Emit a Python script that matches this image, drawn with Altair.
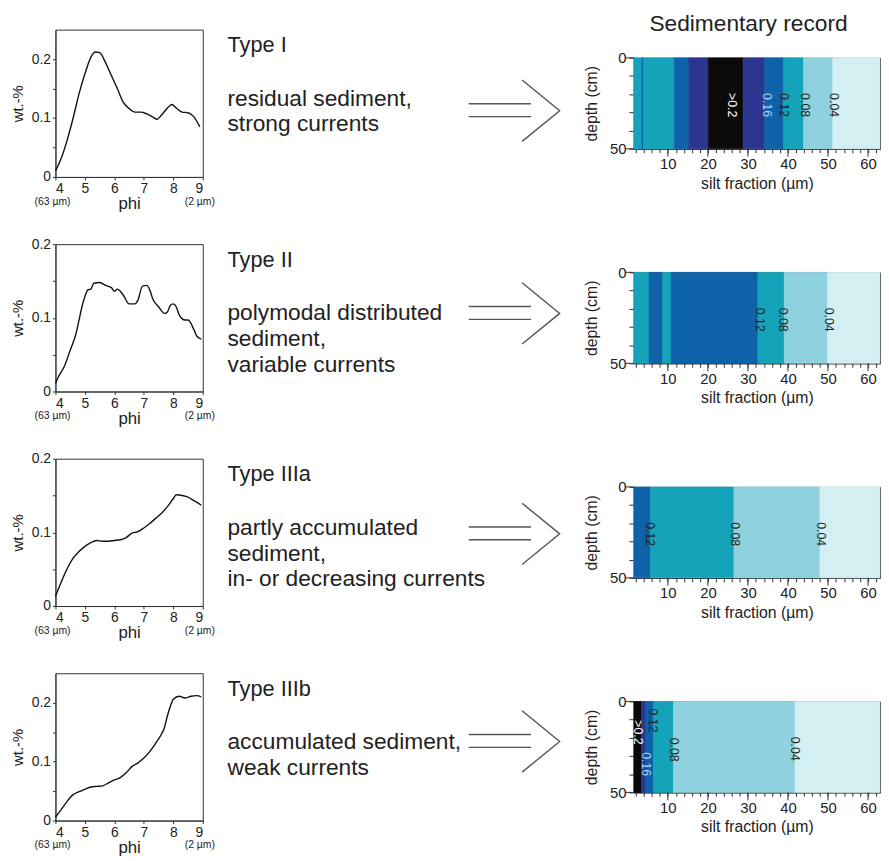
import altair as alt
import pandas as pd

FONT = "Liberation Sans"
INK = "#222222"

# ---------------- grain-size distributions (left column) ----------------
phi1 = [4.0, 4.2, 4.4, 4.6, 4.8, 5.0, 5.2, 5.35, 5.5, 5.7, 5.9, 6.1, 6.3, 6.5, 6.7, 6.9,
        7.1, 7.3, 7.45, 7.6, 7.8, 7.95, 8.1, 8.3, 8.5, 8.7, 8.9]
wt1 = [0.010, 0.032, 0.063, 0.100, 0.141, 0.175, 0.203, 0.212, 0.211, 0.194, 0.172, 0.150,
       0.127, 0.116, 0.110, 0.110, 0.107, 0.102, 0.098, 0.105, 0.117, 0.123, 0.117, 0.110,
       0.109, 0.102, 0.085]

phi2 = [4.0, 4.1, 4.3, 4.5, 4.7, 4.8, 4.9, 5.0, 5.1, 5.2, 5.3, 5.5, 5.7, 5.9, 6.0, 6.1, 6.3,
        6.5, 6.7, 6.8, 6.95, 7.1, 7.2, 7.3, 7.5, 7.7, 7.8, 7.9, 8.0, 8.1, 8.2, 8.4, 8.5, 8.7,
        8.8, 8.95]
wt2 = [0.011, 0.020, 0.034, 0.056, 0.079, 0.097, 0.115, 0.129, 0.138, 0.139, 0.147, 0.148,
       0.144, 0.141, 0.136, 0.139, 0.131, 0.119, 0.119, 0.124, 0.143, 0.144, 0.138, 0.126,
       0.115, 0.106, 0.108, 0.117, 0.119, 0.115, 0.104, 0.097, 0.097, 0.084, 0.075, 0.071]

phi3 = [4.0, 4.2, 4.4, 4.6, 4.8, 5.0, 5.2, 5.4, 5.6, 5.8, 6.0, 6.2, 6.4, 6.6, 6.8, 7.0, 7.2,
        7.4, 7.6, 7.8, 8.0, 8.1, 8.3, 8.5, 8.7, 8.95]
wt3 = [0.013, 0.033, 0.051, 0.065, 0.074, 0.081, 0.086, 0.089, 0.088, 0.088, 0.089, 0.090,
       0.093, 0.099, 0.101, 0.106, 0.112, 0.119, 0.126, 0.135, 0.146, 0.151, 0.150, 0.148,
       0.143, 0.137]

phi4 = [4.0, 4.2, 4.4, 4.6, 4.8, 5.0, 5.2, 5.4, 5.6, 5.8, 6.0, 6.2, 6.4, 6.6, 6.8, 7.0, 7.2,
        7.4, 7.6, 7.7, 7.8, 7.9, 8.0, 8.2, 8.4, 8.6, 8.8, 8.95]
wt4 = [0.006, 0.019, 0.033, 0.044, 0.049, 0.053, 0.057, 0.058, 0.059, 0.064, 0.069, 0.073,
       0.081, 0.092, 0.098, 0.106, 0.117, 0.131, 0.147, 0.158, 0.178, 0.194, 0.206, 0.211,
       0.208, 0.211, 0.212, 0.210]

ymax_left = [0.25, 0.2, 0.2, 0.25]
phi_ticks = [4, 5, 6, 7, 8, 9]
wt_ticks = [0, 0.05, 0.1, 0.15, 0.2]
sub_phi = [4, 9]
sub_labels = ["(63 \u00b5m)", "(2 \u00b5m)"]

# ---------------- texts (middle column) ----------------
main_title = "Sedimentary record"
type_labels = ["Type I", "Type II", "Type IIIa", "Type IIIb"]
descriptions = [
    ["residual sediment,", "strong currents"],
    ["polymodal distributed", "sediment,", "variable currents"],
    ["partly accumulated", "sediment,", "in- or decreasing currents"],
    ["accumulated sediment,", "weak currents"],
]

# ---------------- sedimentary records (right column) ----------------
level_names = ["<0.04", "0.04-0.08", "0.08-0.12", "0.12-0.16", "0.16-0.2", ">0.2"]
level_colors = ["#d3eff2", "#8fd2df", "#14a3b9", "#0e63a8", "#2b3590", "#0a0a0a"]

edges1 = [1.5, 3.5, 3.9, 11.6, 15.3, 20.1, 28.8, 34.2, 38.9, 43.9, 51.2, 63]
cls1 = ["0.08-0.12", "0.12-0.16", "0.08-0.12", "0.12-0.16", "0.16-0.2", ">0.2",
        "0.16-0.2", "0.12-0.16", "0.08-0.12", "0.04-0.08", "<0.04"]
edges2 = [1.5, 5.3, 8.7, 10.8, 32.5, 39.1, 49.9, 63]
cls2 = ["0.08-0.12", "0.12-0.16", "0.08-0.12", "0.12-0.16", "0.08-0.12", "0.04-0.08", "<0.04"]
edges3 = [1.5, 5.7, 26.5, 48.0, 63]
cls3 = ["0.12-0.16", "0.08-0.12", "0.04-0.08", "<0.04"]
edges4 = [1.5, 3.4, 4.5, 6.4, 11.4, 41.8, 63]
cls4 = [">0.2", "0.16-0.2", "0.12-0.16", "0.08-0.12", "0.04-0.08", "<0.04"]

lab1 = [">0.2", "0.16", "0.12", "0.08", "0.04"]
labx1 = [25.9, 34.8, 39.0, 44.3, 51.6]
labd1 = [26, 26, 26, 26, 26]
labc1 = ["#ffffff", "#a9d6f2", INK, INK, INK]
lab2 = ["0.12", "0.08", "0.04"]
labx2 = [32.9, 38.7, 50.3]
labd2 = [26, 26, 26]
labc2 = [INK, INK, INK]
lab3 = ["0.12", "0.08", "0.04"]
labx3 = [5.6, 26.7, 48.3]
labd3 = [26, 26, 26]
labc3 = [INK, INK, INK]
lab4 = [">0.2", "0.16", "0.12", "0.08", "0.04"]
labx4 = [2.5, 4.6, 6.4, 11.4, 41.8]
labd4 = [17, 34.5, 10.5, 26.5, 26]
labc4 = ["#ffffff", "#a9d6f2", INK, INK, INK]

silt_ticks = list(range(2, 63, 2))
silt_major = [10, 20, 30, 40, 50, 60]
depth_ticks = [0, 10, 20, 30, 40, 50]
depth_major = [0, 50]

# ---------------- layout constants ----------------
LW, LH = 149, 149
MW, MH = 436, 183
RW, RH = 249, 92
arrow_y = [99, 87, 93, 86]
PAD = {"left": 2, "top": 0, "right": 0, "bottom": 0}

PHI_AXIS = alt.Axis(values=phi_ticks, labelFontSize=14, tickSize=3, labelPadding=2,
                    labelOverlap=False, titleFontSize=17, titlePadding=0, format="d")
WT_AXIS = alt.Axis(values=wt_ticks, labelFontSize=14, tickSize=3, labelPadding=2,
                   labelOverlap=False, titleFontSize=15, titlePadding=6,
                   labelExpr="datum.value == 0 ? '0' : (round(datum.value*100) % 10 == 0 ? format(datum.value, '.1f') : '')")
SILT_AXIS = alt.Axis(values=silt_ticks, tickSize=4, labelPadding=4, labelFontSize=15,
                     labelOverlap=False, titleFontSize=16, titlePadding=4,
                     labelExpr="datum.value % 10 == 0 ? '' + datum.value : ''")
DEPTH_AXIS = alt.Axis(values=depth_ticks, tickSize=5, labelPadding=3, labelFontSize=15,
                      labelOverlap=False, titleFontSize=16, titlePadding=10,
                      labelExpr="(datum.value == 0 || datum.value == 50) ? '' + datum.value : ''")
XT = "silt fraction (\u00b5m)"
YT = "depth (cm)"


def left_chart(phi, wt, ymax):
    df = pd.DataFrame({"phi": phi, "wt": wt})
    xs = alt.Scale(domain=[4, 9], nice=False, zero=False)
    ys = alt.Scale(domain=[0, ymax], nice=False)
    line = alt.Chart(df).mark_line(color="#111111", strokeWidth=1.4, interpolate="monotone").encode(
        x=alt.X("phi:Q", scale=xs, title="phi", axis=PHI_AXIS),
        y=alt.Y("wt:Q", scale=ys, title="wt.-%", axis=WT_AXIS),
    )
    sub = alt.Chart(pd.DataFrame({"phi": sub_phi, "lab": sub_labels})).mark_text(
        fontSize=10.5, baseline="alphabetic", dx=-3, color=INK
    ).encode(x=alt.X("phi:Q", title="phi", axis=PHI_AXIS), y=alt.value(LH + 28), text="lab:N")
    return alt.layer(line, sub).properties(width=LW, height=LH)


def mid_chart(i):
    xs = alt.Scale(domain=[0, MW], nice=False, zero=False)
    ys = alt.Scale(domain=[0, MH], nice=False, zero=False, reverse=True)
    lines = [type_labels[i]] + descriptions[i]
    ypos = [40] + [94 + 26 * k for k in range(len(descriptions[i]))]
    sizes = [22] + [23] * len(descriptions[i])
    tdf = pd.DataFrame({"t": lines, "x": [25] * len(lines), "y": ypos, "s": sizes})
    txt = alt.Chart(tdf).mark_text(align="left", baseline="alphabetic", color=INK).encode(
        x=alt.X("x:Q", scale=xs, axis=None), y=alt.Y("y:Q", scale=ys, axis=None), text="t:N",
        size=alt.Size("s:Q", scale=None, legend=None))
    ay = arrow_y[i]
    bars = pd.DataFrame({"x": [269, 269], "x2": [332, 332], "y": [ay - 7, ay + 6]})
    rules = alt.Chart(bars).mark_rule(color="#555555", strokeWidth=1.4).encode(
        x=alt.X("x:Q", scale=xs, axis=None), x2="x2:Q", y=alt.Y("y:Q", scale=ys, axis=None))
    chev = pd.DataFrame({"x": [323, 361, 323], "y": [ay - 31, ay, ay + 31], "o": [0, 1, 2]})
    head = alt.Chart(chev).mark_line(color="#555555", strokeWidth=1.4).encode(
        x=alt.X("x:Q", scale=xs, axis=None), y=alt.Y("y:Q", scale=ys, axis=None), order="o:Q")
    layers = [txt, rules, head]
    if i == 0:
        # heading of the right-hand column, written in this row's annotation layer
        hdf = pd.DataFrame({"t": [main_title], "x": [552], "y": [0]})
        layers.append(alt.Chart(hdf).mark_text(align="center", baseline="top",
                                               fontSize=23, color=INK).encode(
            x=alt.X("x:Q", scale=xs, axis=None), y=alt.Y("y:Q", scale=ys, axis=None), text="t:N"))
    return alt.layer(*layers).properties(
        width=MW, height=MH, view=alt.ViewBackground(strokeOpacity=0))


def right_chart(edges, classes, labs, labx, labd, labc):
    bands = pd.DataFrame({"x0": edges[:-1], "x1": edges[1:], "cls": classes,
                          "d0": [0] * len(classes), "d1": [50] * len(classes)})
    xs = alt.Scale(domain=[1.5, 63], nice=False, zero=False)
    ys = alt.Scale(domain=[0, 50], nice=False, reverse=True)
    cs = alt.Scale(domain=level_names, range=level_colors)
    rect = alt.Chart(bands).mark_rect(strokeWidth=0.6).encode(
        x=alt.X("x0:Q", scale=xs, title=XT, axis=SILT_AXIS),
        x2="x1:Q",
        y=alt.Y("d0:Q", scale=ys, title=YT, axis=DEPTH_AXIS),
        y2="d1:Q",
        color=alt.Color("cls:N", scale=cs, legend=None),
        stroke=alt.Stroke("cls:N", scale=cs, legend=None),
    )
    mx = alt.Chart(pd.DataFrame({"v": silt_major})).mark_rule(color="#333333", strokeWidth=1).encode(
        x=alt.X("v:Q", title=XT, axis=SILT_AXIS), y=alt.value(RH), y2=alt.value(RH + 8))
    my = alt.Chart(pd.DataFrame({"v": depth_major})).mark_rule(color="#333333", strokeWidth=1).encode(
        y=alt.Y("v:Q", title=YT, axis=DEPTH_AXIS), x=alt.value(-8), x2=alt.value(0))
    ldf = pd.DataFrame({"t": labs, "x": labx, "d": labd, "c": labc})
    txt = alt.Chart(ldf).mark_text(angle=90, fontSize=12.5, align="center", baseline="middle").encode(
        x=alt.X("x:Q", title=XT, axis=SILT_AXIS), y=alt.Y("d:Q", title=YT, axis=DEPTH_AXIS),
        text="t:N", color=alt.Color("c:N", scale=None))
    return alt.layer(rect, mx, my, txt).properties(width=RW, height=RH)


curves = [(phi1, wt1), (phi2, wt2), (phi3, wt3), (phi4, wt4)]
records = [
    (edges1, cls1, lab1, labx1, labd1, labc1),
    (edges2, cls2, lab2, labx2, labd2, labc2),
    (edges3, cls3, lab3, labx3, labd3, labc3),
    (edges4, cls4, lab4, labx4, labd4, labc4),
]

rows = []
for i in range(4):
    L = left_chart(curves[i][0], curves[i][1], ymax_left[i])
    M = mid_chart(i)
    R = right_chart(*records[i])
    rows.append(alt.hconcat(L, M, R, spacing=0, bounds="flush", center=True))

chart = alt.vconcat(*rows, spacing=15, padding=PAD).configure(
    padding=PAD
).configure_view(
    stroke="#333333", strokeWidth=1
).configure_axis(
    labelFont=FONT, titleFont=FONT, labelColor=INK, titleColor=INK, labelOverlap=False,
    domainColor="#333333", tickColor="#333333", grid=False, titleFontWeight="normal"
).configure_text(font=FONT).configure_title(font=FONT)

chart.save("out.html", embed_options={"renderer": "svg", "actions": False})
